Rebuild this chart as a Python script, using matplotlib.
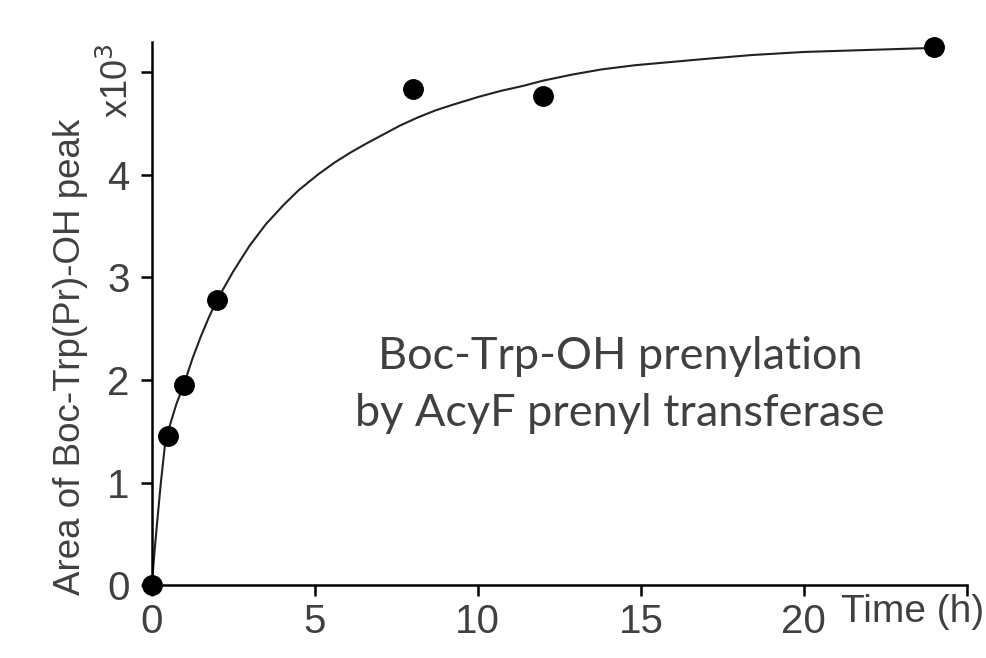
import matplotlib
matplotlib.use("Agg")
import matplotlib.pyplot as plt

# measured data (Time in h, area x10^3)
time_h = [0, 0.5, 1, 2, 8, 12, 24]
area = [0.0, 1.45, 1.95, 2.78, 4.84, 4.77, 5.25]

# fitted curve
curve_t = [0, 0.1, 0.2, 0.28, 0.41, 0.5, 0.75, 1.0, 1.25, 1.5, 1.75, 2.0, 2.5,
           3.0, 3.5, 4.05, 4.5, 5.08, 5.6, 6.1, 6.6, 7.13, 7.6, 8.15, 8.7,
           9.18, 10.0, 10.7, 11.4, 12.0, 12.9, 13.8, 14.8, 15.85, 16.9, 18.4,
           20.0, 22.0, 24.0]
curve_y = [0.0, 0.38, 0.73, 1.0, 1.38, 1.5, 1.76, 1.97, 2.21, 2.42, 2.61, 2.78,
           3.06, 3.31, 3.52, 3.71, 3.85, 4.00, 4.12, 4.22, 4.31, 4.40, 4.48,
           4.56, 4.63, 4.68, 4.76, 4.82, 4.87, 4.92, 4.98, 5.03, 5.07, 5.10,
           5.13, 5.17, 5.20, 5.22, 5.24]

x_ticks = [0, 5, 10, 15, 20, 25]
x_ticklabels = ["0", "5", "10", "15", "20", ""]
y_ticks = [0, 1, 2, 3, 4, 5]
y_ticklabels = ["0", "1", "2", "3", "4", ""]

grey = "#404040"

fig = plt.figure(figsize=(9.86, 6.58), dpi=100)
ax = fig.add_axes([0.1539, 0.1109, 0.8268, 0.8257])

ax.plot(curve_t, curve_y, color="#222222", lw=1.5, zorder=2)
ax.plot(time_h, area, "o", color="black", ms=14, zorder=3, clip_on=False)

ax.set_xlim(0, 25)
ax.set_ylim(0, 5.3)
for s in ["top", "right"]:
    ax.spines[s].set_visible(False)
for s in ["left", "bottom"]:
    ax.spines[s].set_linewidth(1.8)
    ax.spines[s].set_color("black")

ax.set_xticks(x_ticks)
ax.set_xticklabels(x_ticklabels)
ax.set_yticks(y_ticks)
ax.set_yticklabels(y_ticklabels)
ax.tick_params(axis="both", direction="out", length=8, width=1.8,
               colors="black", labelcolor=grey, labelsize=29,
               labelfontfamily="Liberation Sans")
ax.tick_params(axis="x", pad=5)
ax.tick_params(axis="y", pad=8)

fig.text(0.071, 0.457, "Area of Boc-Trp(Pr)-OH peak", rotation=90,
         ha="center", va="center", fontsize=26.5, color=grey,
         family="Liberation Sans")
fig.text(0.12, 0.877, r"x10$^3$", rotation=90, ha="center", va="center",
         fontsize=26, color=grey, family="Liberation Sans")
fig.text(0.998, 0.070, "Time (h)", ha="right", va="center", fontsize=28,
         color=grey, family=["Liberation Sans Narrow", "Liberation Sans"])

ax.text(14.36, 1.95, "Boc-Trp-OH prenylation\nby AcyF prenyl transferase",
        ha="center", va="center", fontsize=32.5, color=grey, family="Lato",
        linespacing=1.5)

fig.savefig("out.png", dpi=100, facecolor="white")
